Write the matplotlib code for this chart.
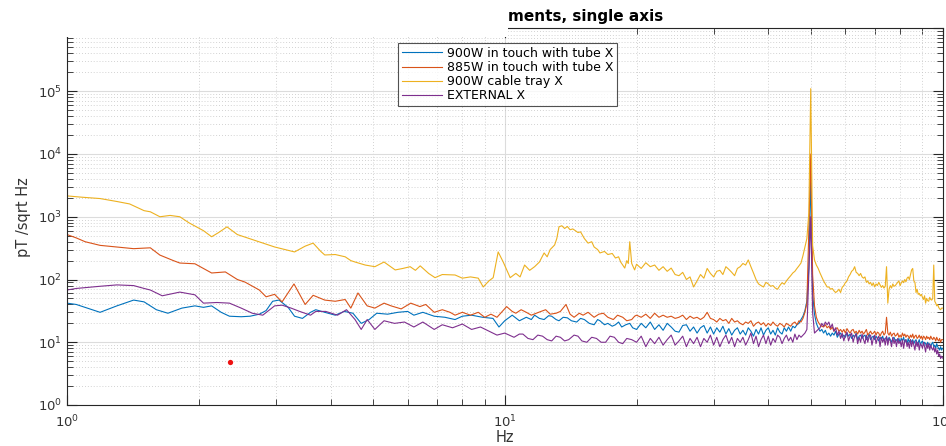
import matplotlib
matplotlib.use("Agg")
import matplotlib.pyplot as plt
import numpy as np
from matplotlib.patches import Rectangle
from matplotlib.ticker import LogLocator, NullFormatter

plt.rcParams['font.family'] = ['DejaVu Sans']

# spectra in pT/sqrt(Hz); below 20 Hz at irregular frequencies,
# from 20 Hz to 100 Hz on a 0.5 Hz bin grid
f_grid = np.arange(20.0, 100.01, 0.5)

f_900w_tube_lo = [1.0, 1.05, 1.1, 1.19, 1.3, 1.42, 1.5, 1.6, 1.7, 1.83, 1.96, 2.05, 2.14, 2.25, 2.35,
                  2.5, 2.62, 2.75, 2.85, 2.95, 3.05, 3.2, 3.31, 3.45, 3.6, 3.7, 3.88, 4.1, 4.3, 4.5,
                  4.7, 4.9, 5.1, 5.4, 5.7, 6.0, 6.2, 6.5, 6.9, 7.3, 7.7, 8.0, 8.4, 8.9, 9.4, 9.7,
                  10.0, 10.4, 10.8, 11.2, 11.5, 11.7, 12.0, 12.3, 12.6, 12.8, 13.1, 13.3, 13.6, 13.9,
                  14.2, 14.6, 14.9, 15.2, 15.6, 16.0, 16.3, 16.5, 16.9, 17.2, 17.6, 17.9, 18.2, 18.5,
                  18.9, 19.3, 19.6]
v_900w_tube_lo = [42, 40, 36, 30, 38, 47, 44, 33, 29, 35, 38, 36, 38, 30, 26,
                  25.5, 26, 28, 32, 45, 47, 36, 26, 24, 30, 33, 30, 27, 31, 29,
                  20, 23, 29, 28, 30, 31, 27, 30, 26, 25, 23, 26, 27, 25, 24, 17.5,
                  22, 27, 22, 25, 23, 27, 24, 23, 26.5, 26, 23, 22, 25, 24.5,
                  22, 21, 24, 23, 20, 19, 23, 22, 19, 20, 18, 19, 21, 17.5,
                  19, 20, 17]
v_900w_tube_hi = [16, 20, 17, 21, 16, 19, 15.5, 20, 17.5, 15,
                  14.5, 18.5, 19, 15, 17.5, 14, 17, 18.5, 14, 17.5,
                  13.5, 17, 14.5, 18, 13.5, 16.5, 13, 15.5, 17, 13.5,
                  15.5, 13, 17, 15, 12.5, 16, 13.5, 17, 13, 15.5,
                  17, 13.5, 15.5, 13, 17, 14.5, 13.5, 17, 15, 17.5,
                  15, 18, 17, 19, 20, 23, 26, 32, 45, 150,
                  5000, 60, 28, 20, 17, 15, 16, 14, 15.5, 13,
                  14, 12.5, 14, 13, 15, 12, 13.5, 14, 12, 13,
                  12, 14, 12.5, 13.5, 11.5, 13, 12, 14, 11, 12.5,
                  13, 11.5, 12.5, 13, 11, 12, 13.5, 11, 12, 12.5,
                  11, 12.5, 11.5, 10.5, 12, 11, 12.5, 10.5, 11.5, 12,
                  10.5, 12, 11, 10, 11.5, 12, 10.5, 11, 10, 11.5,
                  10, 11.5, 10.5, 12, 10, 11, 9.5, 11.5, 10, 11,
                  10, 11, 9.5, 10.5, 11, 9.5, 10, 11, 9, 10,
                  10.5, 9, 10, 9.5, 8.5, 10, 9, 9.5, 8.5, 9.5,
                  10, 8.5, 9, 8, 9.5, 8.5, 8, 7.5, 8.5, 7.5,
                  8]

f_885w_tube_lo = [1.0, 1.05, 1.1, 1.19, 1.3, 1.42, 1.55, 1.63, 1.75, 1.81, 1.96, 2.05, 2.14, 2.3, 2.45,
                  2.55, 2.62, 2.75, 2.85, 2.98, 3.1, 3.3, 3.5, 3.65, 3.88, 4.1, 4.32, 4.45, 4.62,
                  4.85, 5.05, 5.3, 5.5, 5.8, 6.1, 6.4, 6.6, 6.9, 7.2, 7.5, 7.7, 8.0, 8.35, 8.7, 9.0,
                  9.3, 9.6, 10.1, 10.4, 10.6, 10.9, 11.2, 11.5, 11.8, 12.1, 12.4, 12.7, 13.1, 13.4,
                  13.8, 14.1, 14.4, 14.8, 15.1, 15.5, 16.0, 16.4, 16.8, 17.2, 17.7, 18.1, 18.6, 19.0,
                  19.5, 19.8]
v_885w_tube_lo = [520, 460, 400, 350, 330, 310, 320, 245, 200, 183, 178, 150, 127, 132, 100,
                  91, 82, 68, 53, 58, 44, 85, 40, 56, 47, 45, 48, 35, 61,
                  38, 35, 42, 38, 34, 42, 37, 40, 30, 33, 30, 27, 30, 27, 30, 25,
                  28, 25, 37, 31, 29, 33, 30, 27, 29, 31, 33, 28, 29, 31,
                  40, 28, 25, 29, 27, 30, 25, 28, 29, 25, 23, 27, 25, 22,
                  23, 26]
v_885w_tube_hi = [27, 25, 28, 24, 29, 25, 27, 25, 26, 24,
                  25, 27, 23, 26, 24, 25, 23, 25, 30, 24,
                  23, 21, 24, 22, 23, 20, 24, 21, 22, 20,
                  19, 21, 20, 22, 18, 20, 21, 19, 20.5, 18,
                  20, 18.5, 21, 19, 18, 20, 19, 17.5, 20, 19,
                  18, 20, 21, 19, 22, 21, 24, 30, 42, 600,
                  10000, 120, 38, 25, 21, 19, 18, 17.5, 19, 17,
                  18, 16, 17.5, 15, 16.5, 17, 15, 16, 14.5, 16,
                  14, 16.5, 15, 14, 15.5, 16, 14, 15, 13.5, 15.5,
                  14, 15, 13.5, 14.5, 16, 13, 14, 15, 13.5, 14,
                  15, 13, 14.5, 14, 12.5, 14, 15, 13, 14, 25,
                  14, 13, 14.5, 12.5, 13.5, 14, 12.5, 13, 14, 12,
                  13, 12, 14, 12.5, 13.5, 12, 13, 12.5, 11.5, 13,
                  12, 13.5, 11.5, 12.5, 13, 11.5, 12, 13, 11.5, 12.5,
                  11, 12.5, 12, 11, 12.5, 11.5, 12, 11, 12.5, 11.5,
                  11, 12, 11.5, 10.5, 12, 11, 10.5, 11.5, 10, 11,
                  11]

f_900w_tray_lo = [1.0, 1.08, 1.19, 1.3, 1.39, 1.5, 1.55, 1.63, 1.72, 1.81, 1.9, 1.96, 2.05, 2.14, 2.22,
                  2.32, 2.45, 2.62, 2.8, 2.98, 3.15, 3.31, 3.5, 3.65, 3.8, 3.88, 4.1, 4.32, 4.45, 4.55,
                  4.8, 5.05, 5.3, 5.62, 5.85, 6.08, 6.25, 6.41, 6.7, 6.93, 7.2, 7.7, 8.0, 8.35, 8.7,
                  8.93, 9.2, 9.41, 9.66, 9.92, 10.29, 10.6, 10.84, 11.1, 11.4, 11.7, 12.0, 12.3, 12.5,
                  12.7, 13.0, 13.15, 13.3, 13.5, 13.7, 13.9, 14.1, 14.3, 14.5, 14.7, 14.9, 15.2, 15.5,
                  15.8, 16.0, 16.3, 16.5, 16.9, 17.2, 17.6, 17.9, 18.2, 18.4, 18.6, 18.8, 19.0, 19.15,
                  19.3, 19.5, 19.8]
v_900w_tray_lo = [2150, 2050, 1950, 1750, 1600, 1250, 1200, 1000, 1050, 1000, 800, 710, 600, 480, 560,
                  690, 520, 445, 380, 330, 300, 275, 340, 380, 280, 246, 250, 230, 200, 190,
                  170, 160, 190, 142, 150, 160, 140, 165, 125, 107, 120, 118, 105, 110, 105,
                  76, 95, 107, 275, 190, 107, 125, 110, 170, 140, 160, 190, 265, 230,
                  300, 355, 450, 690, 720, 650, 700, 620, 640, 600, 560, 575, 450, 380,
                  400, 330, 300, 265, 280, 250, 260, 220, 230, 190, 170, 152, 200, 180,
                  400, 180, 142]
v_900w_tray_hi = [175, 150, 185, 160, 170, 140, 160, 135, 152, 120,
                  115, 130, 100, 110, 76, 95, 120, 105, 150, 125,
                  110, 135, 140, 120, 160, 145, 130, 115, 150, 160,
                  180, 170, 205, 160, 127, 100, 85, 80, 76, 90,
                  85, 78, 80, 73, 70, 80, 89, 84, 95, 105,
                  115, 127, 135, 150, 165, 183, 240, 330, 450, 1150,
                  110000, 350, 205, 170, 150, 127, 110, 95, 85, 76,
                  76, 70, 72, 66, 62, 65, 70, 62, 75, 80,
                  89, 95, 110, 120, 135, 142, 160, 130, 125, 115,
                  125, 110, 105, 110, 90, 95, 85, 90, 80, 88,
                  76, 85, 80, 90, 82, 75, 80, 73, 78, 160,
                  42, 70, 80, 73, 85, 78, 80, 85, 90, 95,
                  80, 88, 95, 89, 100, 92, 105, 110, 100, 120,
                  142, 150, 95, 90, 62, 70, 58, 60, 55, 58,
                  52, 48, 55, 42, 50, 46, 45, 52, 48, 47,
                  50, 170, 45, 42, 38, 40, 36, 34, 33, 35,
                  35]

f_external_lo = [1.0, 1.05, 1.12, 1.19, 1.3, 1.42, 1.5, 1.55, 1.65, 1.75, 1.81, 1.96, 2.05, 2.2, 2.35,
                 2.5, 2.65, 2.8, 2.98, 3.1, 3.25, 3.4, 3.6, 3.7, 3.9, 4.15, 4.35, 4.55, 4.7, 4.85,
                 5.05, 5.3, 5.6, 5.9, 6.2, 6.5, 6.9, 7.2, 7.6, 8.0, 8.4, 8.8, 9.2, 9.6, 10.0, 10.5,
                 10.8, 11.0, 11.3, 11.6, 11.9, 12.2, 12.5, 12.8, 13.1, 13.4, 13.7, 14.0, 14.4, 14.7,
                 15.0, 15.4, 15.8, 16.2, 16.6, 17.0, 17.4, 17.8, 18.2, 18.6, 19.0, 19.5]
v_external_lo = [68, 72, 75, 78, 82, 80, 72, 68, 55, 60, 63, 57, 42, 43, 42,
                 35, 29, 27, 38, 39, 35, 31, 27, 31, 31, 27, 33, 23, 16, 23,
                 16, 22, 20, 21, 17.5, 21, 16, 19, 17, 19.5, 16, 17.5, 15, 13, 14, 12,
                 13.5, 13.5, 11.5, 11, 13, 12.5, 11, 10.5, 12.5, 12, 10.5, 11, 13, 12.5,
                 10.5, 10, 12, 11.5, 10, 10, 12.5, 12, 10, 9.5, 11.5, 11]
v_external_hi = [10, 12.5, 8.5, 11.5, 9.5, 12, 9, 11, 13, 9,
                 10.5, 12.5, 8.5, 11.5, 9.5, 12, 8.5, 11.5, 10, 13,
                 9, 12, 8.5, 11, 13, 9.5, 12, 8.5, 11.5, 10,
                 12, 9, 11, 14, 9.5, 12.5, 8.5, 11, 13, 9.5,
                 12.5, 9, 11.5, 10, 13, 12, 9.5, 11.5, 13, 10.5,
                 12, 10, 13.5, 11, 13, 12, 13, 14, 16, 120,
                 1000, 30, 14, 15, 16, 17, 20, 18, 21, 19,
                 21, 17, 19.5, 15, 17, 13, 15, 11.5, 14, 10.5,
                 13, 14.5, 10.5, 12.5, 14, 10, 12.5, 13.5, 9.5, 12,
                 10, 13.5, 11, 9.5, 13, 10, 12.5, 13, 9, 11.5,
                 13, 9.5, 11.5, 12.5, 8.5, 12, 10, 11.5, 9, 12.5,
                 9, 11.5, 10.5, 8.5, 12, 9.5, 11, 8.5, 11.5, 9.5,
                 10.5, 8.5, 11, 8, 10.5, 11, 8.5, 10, 8, 11,
                 8.5, 10.5, 9, 7.5, 10.5, 8.5, 10, 7.5, 9.5, 9,
                 8, 10, 8.5, 7, 9.5, 8, 9.5, 7.5, 9, 8,
                 7.5, 8.5, 7, 8, 6.5, 7.5, 6, 6.5, 5.5, 6,
                 5.6]

labels = ['900W in touch with tube X', '885W in touch with tube X',
          '900W cable tray X', 'EXTERNAL X']
colors = ['#0072BD', '#D95319', '#EDB120', '#7E2F8E']

marker_f = [2.36]
marker_v = [4.9]

series = [(f_900w_tube_lo, v_900w_tube_lo, v_900w_tube_hi),
          (f_885w_tube_lo, v_885w_tube_lo, v_885w_tube_hi),
          (f_900w_tray_lo, v_900w_tray_lo, v_900w_tray_hi),
          (f_external_lo, v_external_lo, v_external_hi)]

W, H = 946, 446
fig = plt.figure(figsize=(W / 100, H / 100), dpi=100)
ax = fig.add_axes([67 / W, 1 - 405 / H, (942.5 - 67) / W, (405 - 28.5) / H])

for (f_lo, v_lo, v_hi), lab, c in zip(series, labels, colors):
    f = np.concatenate([f_lo, f_grid])
    v = np.concatenate([v_lo, v_hi])
    ax.plot(f, v, color=c, lw=0.8, label=lab)
ax.plot(marker_f, marker_v, 'o', color='#ee1111', ms=3.8, mec='none')

ax.set_xscale('log')
ax.set_yscale('log')
ax.set_xlim(1, 100)
ax.set_ylim(1, 1e6)

dark = '#262626'
for s in ax.spines.values():
    s.set_color(dark)
    s.set_linewidth(0.8)
ax.xaxis.set_major_locator(LogLocator(base=10, numticks=10))
ax.yaxis.set_major_locator(LogLocator(base=10, numticks=10))
ax.xaxis.set_minor_locator(LogLocator(base=10, subs=range(2, 10), numticks=20))
ax.yaxis.set_minor_locator(LogLocator(base=10, subs=range(2, 10), numticks=20))
ax.xaxis.set_minor_formatter(NullFormatter())
ax.yaxis.set_minor_formatter(NullFormatter())
ax.tick_params(which='both', direction='in', top=True, right=True, colors=dark,
               labelsize=9.5, labelcolor='#333333')
ax.tick_params(which='major', length=7, width=0.8)
ax.tick_params(which='minor', length=4, width=0.6)
ax.tick_params(axis='x', pad=6)

ax.grid(True, which='major', color='#dcdcdc', lw=0.8, ls='-')
ax.grid(True, which='minor', color='#c4c4c4', lw=0.6, ls=(0, (1, 2.5)))
ax.set_axisbelow(True)

ax.set_xlabel('Hz', fontsize=10.5, color='#333333', labelpad=0)
ax.set_ylabel('pT /sqrt Hz', fontsize=10.5, color='#333333', labelpad=5)

leg = ax.legend(loc='upper left', bbox_to_anchor=((398 - 67) / (942.5 - 67), 1 - (43 - 28.5) / (405 - 28.5)),
                fontsize=9, frameon=True, fancybox=False, borderaxespad=0,
                handlelength=3.2, handletextpad=0.4, borderpad=0.3, labelspacing=0.1)
leg.get_frame().set_edgecolor(dark)
leg.get_frame().set_linewidth(0.8)

# blank band over the upper left corner, title tail on top of it
fig.patches.append(Rectangle((0, 1 - 37 / H), 508 / W, 37 / H, transform=fig.transFigure,
                             facecolor='white', edgecolor='none', zorder=10))
fig.text(508 / W, 1 - 16 / H, 'ments, single axis', fontsize=11, fontweight='bold',
         ha='left', va='center', color='black', zorder=11)

fig.savefig('out.png', dpi=100)
